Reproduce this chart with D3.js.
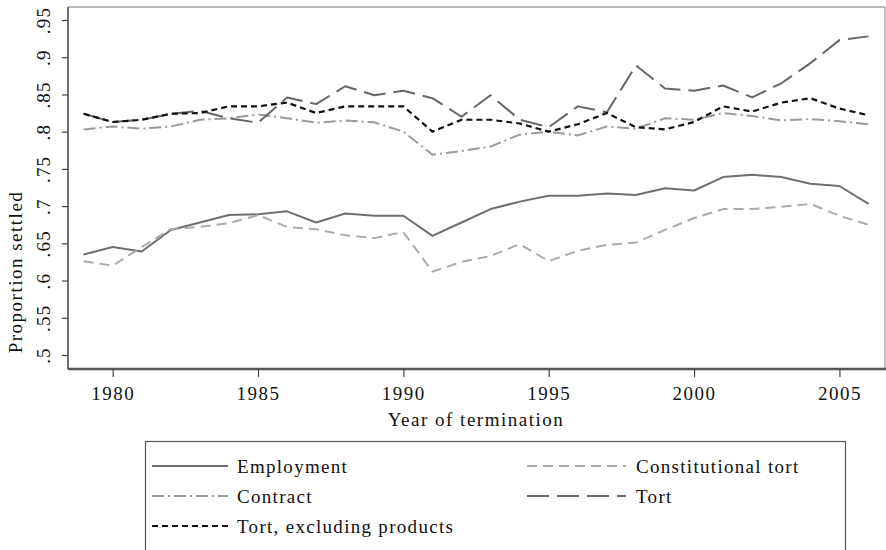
<!DOCTYPE html>
<html><head><meta charset="utf-8">
<script src="https://cdn.jsdelivr.net/npm/d3@7"></script>
<style>
html,body{margin:0;padding:0;background:#fff;}
svg text{font-family:"Liberation Serif","DejaVu Serif",serif;fill:#111;}
</style></head>
<body>
<svg id="chart" width="886" height="550"></svg>
<script>
const years = [1979,1980,1981,1982,1983,1984,1985,1986,1987,1988,1989,1990,1991,1992,1993,1994,1995,1996,1997,1998,1999,2000,2001,2002,2003,2004,2005,2006];
const employment = [.635,.645,.639,.668,.678,.688,.689,.693,.678,.690,.687,.687,.660,.678,.696,.706,.714,.714,.717,.715,.724,.721,.739,.742,.739,.730,.727,.703];
const constitutionalTort = [.626,.620,.645,.669,.672,.677,.688,.672,.669,.661,.657,.665,.612,.625,.633,.649,.626,.640,.648,.651,.668,.684,.696,.696,.699,.703,.687,.675];
const contract = [.803,.807,.804,.807,.816,.818,.823,.818,.812,.815,.8125,.800,.769,.774,.780,.796,.800,.795,.807,.804,.818,.816,.825,.821,.815,.817,.814,.810];
const tort = [.824,.813,.816,.824,.828,.818,.812,.846,.837,.861,.849,.855,.845,.820,.849,.816,.806,.834,.826,.889,.858,.855,.862,.846,.865,.892,.923,.928];
const tortExcl = [.824,.813,.816,.824,.825,.834,.834,.839,.825,.834,.834,.834,.800,.816,.816,.811,.800,.810,.825,.806,.803,.813,.834,.827,.839,.845,.831,.822];
const yTicks = [.5,.55,.6,.65,.7,.75,.8,.85,.9,.95];
const yTickLabels = [".5",".55",".6",".65",".7",".75",".8",".85",".9",".95"];
const xTicks = [1980,1985,1990,1995,2000,2005];

const series = [
  {name:"Employment", values:employment, color:"#6f6f6f", dash:null, width:2},
  {name:"Constitutional tort", values:constitutionalTort, color:"#ababab", dash:"10,6", width:2},
  {name:"Contract", values:contract, color:"#9a9a9a", dash:"12,4,2,4", width:2},
  {name:"Tort", values:tort, color:"#666666", dash:"22,8", width:2},
  {name:"Tort, excluding products", values:tortExcl, color:"#111111", dash:"6,4", width:2.2}
];

(function(){
const svg = d3.select("#chart");
const pLeft = 68, pRight = 885, pTop = 7, pBottom = 369;
const x = d3.scaleLinear().domain([1979, 2006]).range([83.6, 868.5]);
const y = d3.scaleLinear().domain([0.5, 0.95]).range([355, 20]);

// frame
svg.append("line").attr("x1",pLeft).attr("x2",pRight).attr("y1",pTop).attr("y2",pTop).attr("stroke","#777").attr("stroke-width",1.2);
svg.append("line").attr("x1",pRight).attr("x2",pRight).attr("y1",pTop).attr("y2",pBottom).attr("stroke","#999").attr("stroke-width",1.2);

// y axis
const yAxis = d3.axisLeft(y).tickValues(yTicks).tickSize(6).tickFormat((d,i)=>yTickLabels[i]);
const gy = svg.append("g").attr("transform",`translate(${pLeft},0)`).call(yAxis);
gy.select(".domain").attr("d",`M0,${pTop}V${pBottom}`).attr("stroke","#444").attr("stroke-width",1.5);
gy.selectAll(".tick line").attr("stroke","#444").attr("stroke-width",1.2);
gy.selectAll(".tick text")
  .attr("x",0).attr("y",0).attr("dy",null)
  .attr("transform","translate(-18,0) rotate(-90)")
  .attr("text-anchor","middle")
  .style("font-size","19px").style("letter-spacing","1.2px")
  .style("font-family","'Liberation Serif',serif").attr("fill","#111");

// x axis
const xAxis = d3.axisBottom(x).tickValues(xTicks).tickSize(8).tickFormat(d3.format("d"));
const gx = svg.append("g").attr("transform",`translate(0,${pBottom})`).call(xAxis);
gx.select(".domain").attr("d",`M${pLeft},0H886`).attr("stroke","#555").attr("stroke-width",2.4);
gx.selectAll(".tick line").attr("stroke","#444").attr("stroke-width",1.2);
gx.selectAll(".tick text").attr("y",31).attr("dy",null)
  .style("font-size","19px").style("letter-spacing","1.5px")
  .style("font-family","'Liberation Serif',serif").attr("fill","#111");

// axis titles
svg.append("text").attr("x",476).attr("y",426).attr("text-anchor","middle")
  .style("font-size","19px").style("letter-spacing","1.5px").text("Year of termination");
svg.append("text").attr("transform","translate(22,272) rotate(-90)").attr("text-anchor","middle")
  .style("font-size","19px").style("letter-spacing","1.5px").text("Proportion settled");

// lines
const line = d3.line().x((d,i)=>x(years[i])).y(d=>y(d));
series.forEach(s=>{
  svg.append("path").datum(s.values).attr("d",line)
    .attr("fill","none").attr("stroke",s.color).attr("stroke-width",s.width)
    .attr("stroke-dasharray",s.dash).attr("stroke-linejoin","round");
});

// legend
const lg = svg.append("g");
lg.append("rect").attr("x",145.5).attr("y",441.5).attr("width",700).attr("height",130)
  .attr("fill","#fff").attr("stroke","#555").attr("stroke-width",1.2);
const legendPos = [
  {s:0, x1:152, x2:228, tx:237, ty:466},
  {s:1, x1:527, x2:626, tx:636, ty:466},
  {s:2, x1:152, x2:228, tx:237, ty:496},
  {s:3, x1:527, x2:626, tx:636, ty:496},
  {s:4, x1:152, x2:228, tx:237, ty:526}
];
legendPos.forEach(p=>{
  const s = series[p.s];
  lg.append("line").attr("x1",p.x1).attr("x2",p.x2).attr("y1",p.ty).attr("y2",p.ty)
    .attr("stroke",s.color).attr("stroke-width",s.width).attr("stroke-dasharray",s.dash);
  lg.append("text").attr("x",p.tx).attr("y",p.ty).attr("dy","0.35em")
    .style("font-size","19px").style("letter-spacing","1.3px").text(s.name);
});
})();
</script>
</body></html>
